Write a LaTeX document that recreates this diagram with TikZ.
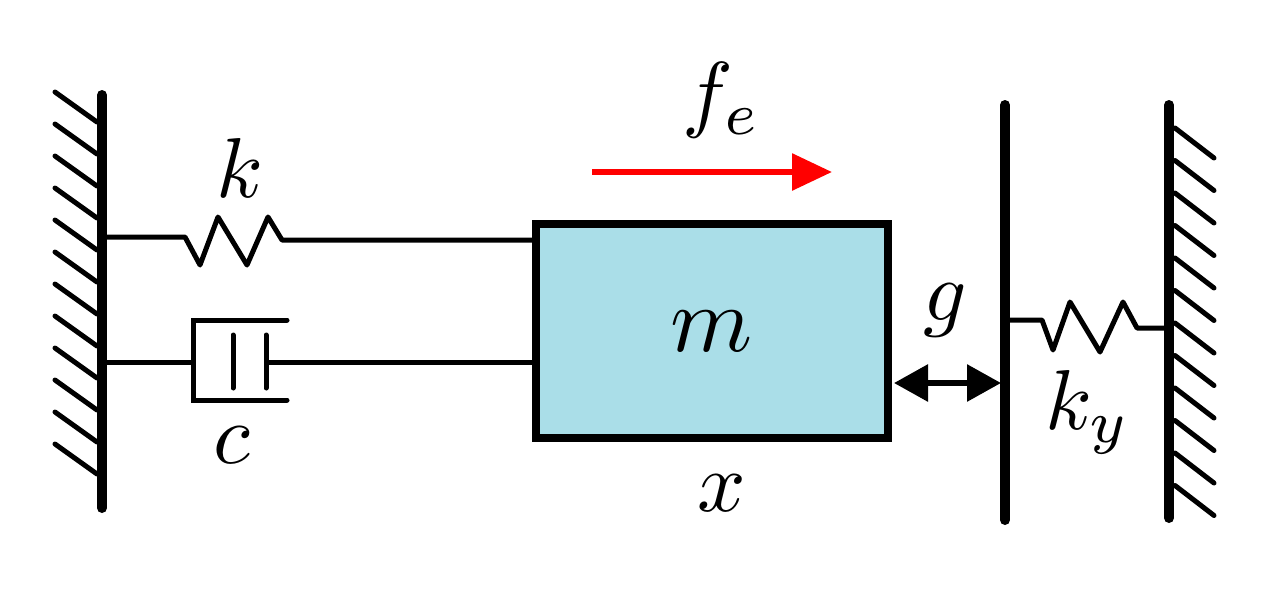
\documentclass[tikz,border=0pt]{standalone}
\usetikzlibrary{arrows.meta}
\begin{document}
\begin{tikzpicture}[x=1pt,y=-1pt,
  wall/.style={line width=10pt,line cap=round},
  ln/.style={line width=5pt},
  hatch/.style={line width=5pt,line cap=round},
  lbl/.style={inner sep=0pt,scale=8.5}]
\useasboundingbox (0,0) rectangle (1282,595);
% left wall
\draw[wall] (102,95) -- (102,508);
\foreach \i in {0,...,11} \draw[hatch] (55,92+32*\i) -- (97,122+32*\i);
% spring k
\coordinate (k0) at (102,237); \coordinate (k1) at (534,240);
\draw[ln,line join=round] (k0) -- (185,237) -- (200,265) -- (218,217) -- (247,265) -- (268,217) -- (282,240) -- (k1);
\node[lbl] (k) at (240,168) {$k$};
% damper
\draw[ln] (102,362) -- (193,362);
\draw[ln,line cap=round] (287,320) -- (193,320) -- (193,400) -- (287,400);
\draw[ln,line cap=round] (233,335) -- (233,388);
\draw[ln,line cap=round] (266,335) -- (266,388);
\draw[ln] (266,362) -- (534,362);
\node[lbl] (c) at (232,445) {$c$};
% mass
\node[draw,line width=8pt,fill={rgb,255:red,170;green,222;blue,232},minimum width=352pt,minimum height=214pt,inner sep=0pt] (m) at (712,331) {};
\node[lbl,scale=1.1] at (m) {$m$};
\node[lbl] (x) at (722,493) {$x$};
% force
\draw[red,line width=6pt,-{Triangle[length=40pt,width=36pt]}] (592,172) -- (832,172);
\node[lbl] (fe) at (722,100) {$f_e$};
% gap
\coordinate (p0) at (1005,105); \coordinate (p1) at (1005,520);
\draw[wall] (p0) -- (p1);
\draw[line width=6pt,{Triangle[length=34pt,width=36pt]}-{Triangle[length=34pt,width=36pt]}] (894,383) -- (1001,383);
\node[lbl] (g) at (945,310) {$g$};
% spring ky
\draw[ln,line join=round] (1005,320) -- (1042,320) -- (1053,350) -- (1070,302) -- (1100,352) -- (1123,302) -- (1137,328) -- (1169,328);
\node[lbl] (ky) at (1088,412) {$k_y$};
% right wall
\draw[wall] (1169,105) -- (1169,518);
\foreach \i in {0,...,11} \draw[hatch] (1175,128+32.5*\i) -- (1214,158+32.5*\i);
\end{tikzpicture}
\end{document}
